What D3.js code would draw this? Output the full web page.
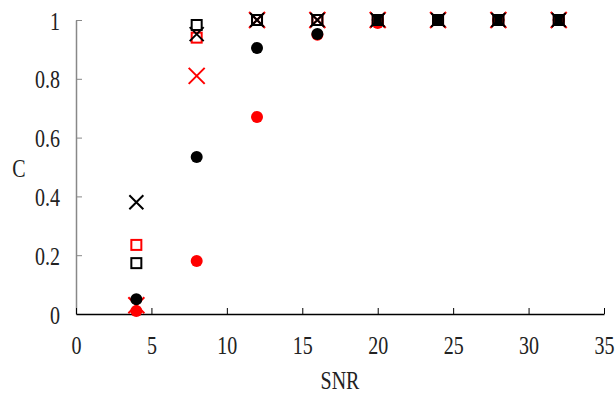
<!DOCTYPE html>
<html>
<head>
<meta charset="utf-8">
<script src="https://cdn.jsdelivr.net/npm/d3@7"></script>
<style>
  body { margin: 0; background: #fff; }
  svg text { font-family: "Liberation Serif", "DejaVu Serif", serif; font-size: 25px; fill: #222; }
</style>
</head>
<body>
<svg id="chart" width="615" height="394"></svg>
<script>
const snr = [4, 8, 12, 16, 20, 24, 28, 32];
const blackDots = [0.05, 0.534, 0.905, 0.952, 1, 1, 1, 1];
const redDots = [0.01, 0.18, 0.67, 0.95, 0.99, 1, 1, 1];
const blackSquares = [0.173, 0.983, 1, 1, 1, 1, 1, 1];
const redSquares = [0.235, 0.94, 1, 1, 1, 1, 1, 1];
const blackCrosses = [0.38, 0.952, 1, 1, 1, 1, 1, 1];
const redCrosses = [0.03, 0.81, 1, 1, 1, 1, 1, 1];
const xTicks = [0, 5, 10, 15, 20, 25, 30, 35];
const yTicks = [0, 0.2, 0.4, 0.6, 0.8, 1];

const margin = { top: 20, right: 11, bottom: 80, left: 76 };
const width = 615 - margin.left - margin.right;
const height = 394 - margin.top - margin.bottom;
const squeeze = 0.8; // the original font is a narrow serif

const svg = d3.select("#chart");
const g = svg.append("g").attr("transform", "translate(" + margin.left + "," + margin.top + ")");

const x = d3.scaleLinear().domain([0, 35]).range([0, width]);
const y = d3.scaleLinear().domain([0, 1]).range([height, 0]);

// y axis (grey, ticks pointing inward)
const yAxis = g.append("g")
  .call(d3.axisLeft(y).tickValues(yTicks).tickSizeInner(-6).tickSizeOuter(0)
    .tickFormat(d => d3.format("")(d)));
yAxis.select(".domain").attr("stroke", "#888").attr("stroke-width", 1.5);
yAxis.selectAll(".tick line").attr("stroke", "#888");
yAxis.selectAll("text").style("font-size", "25px").attr("fill", "#222")
  .attr("x", -16 / squeeze).attr("dy", "0.36em")
  .attr("transform", "scale(" + squeeze + ",1)");

// x axis (black, ticks pointing up)
const xAxis = g.append("g")
  .attr("transform", "translate(0," + height + ")")
  .call(d3.axisBottom(x).tickValues(xTicks).tickSizeInner(-6).tickSizeOuter(0).tickPadding(22));
xAxis.select(".domain").attr("stroke", "#000").attr("stroke-width", 1.5);
xAxis.selectAll(".tick line").attr("stroke", "#000");
xAxis.selectAll("text").style("font-size", "25px").attr("fill", "#222")
  .attr("transform", "scale(" + squeeze + ",1)");

svg.append("text").attr("text-anchor", "middle")
  .attr("transform", "translate(340,389) scale(" + squeeze + ",1)").text("SNR");
svg.append("text").attr("text-anchor", "middle")
  .attr("transform", "translate(19,176.5) scale(" + squeeze + ",1)").text("C");

const pts = vals => vals.map((v, i) => [snr[i], v]);

function dots(vals, color) {
  g.append("g").selectAll("circle").data(pts(vals)).join("circle")
    .attr("cx", d => x(d[0])).attr("cy", d => y(d[1])).attr("r", 6)
    .attr("fill", color);
}
function squares(vals, color) {
  g.append("g").selectAll("rect").data(pts(vals)).join("rect")
    .attr("x", d => x(d[0]) - 5).attr("y", d => y(d[1]) - 5)
    .attr("width", 10).attr("height", 10)
    .attr("fill", "none").attr("stroke", color).attr("stroke-width", 2);
}
function crosses(vals, color, s) {
  g.append("g").selectAll("path").data(pts(vals)).join("path")
    .attr("d", d => {
      const cx = x(d[0]), cy = y(d[1]);
      return "M" + (cx - s) + "," + (cy - s) + "L" + (cx + s) + "," + (cy + s) +
        "M" + (cx - s) + "," + (cy + s) + "L" + (cx + s) + "," + (cy - s);
    })
    .attr("stroke", color).attr("stroke-width", 2).attr("fill", "none");
}

dots(redDots, "#ff0000");
crosses(redCrosses, "#ff0000", 8);
dots(blackDots, "#000");
squares(redSquares, "#ff0000");
squares(blackSquares, "#000");
crosses(blackCrosses, "#000", 7);
</script>
</body>
</html>
